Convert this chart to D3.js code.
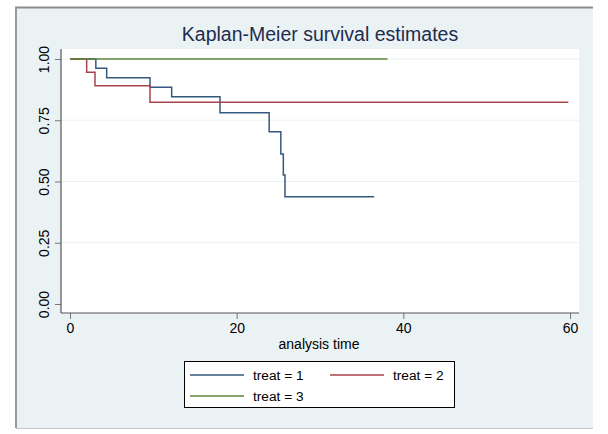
<!DOCTYPE html>
<html>
<head>
<meta charset="utf-8">
<script src="https://cdn.jsdelivr.net/npm/d3@7"></script>
<style>
  body { margin: 0; background: #fff; }
  svg text { font-family: "Liberation Sans", Arial, Helvetica, sans-serif; }
</style>
</head>
<body>
<svg id="km-chart" width="608" height="434"></svg>
<script>
/* survival step data: time, survival estimate */
var treat1_time = [0, 3.1, 4.4, 9.6, 12.2, 18.0, 23.9, 25.3, 25.6, 25.8, 36.5];
var treat1_surv = [1, 0.962, 0.923, 0.885, 0.846, 0.781, 0.703, 0.612, 0.527, 0.438, 0.438];
var treat2_time = [0, 2.0, 3.0, 9.6, 59.8];
var treat2_surv = [1, 0.946, 0.891, 0.823, 0.823];
var treat3_time = [0, 38.1];
var treat3_surv = [1, 1];

var groups = ["treat = 1", "treat = 2", "treat = 3"];
var x_ticks = [0, 20, 40, 60];
var y_ticks = [0, 0.25, 0.5, 0.75, 1];

var colors = ["#34597f", "#a8434c", "#5e8436"];

var svg = d3.select("#km-chart");

/* graph region (Stata style light bluish background with frame) */
svg.append("rect")
    .attr("x", 16).attr("y", 8)
    .attr("width", 577).attr("height", 420)
    .attr("fill", "#eaf2f3");
svg.append("line")
    .attr("x1", 15).attr("x2", 593).attr("y1", 7.5).attr("y2", 7.5)
    .attr("stroke", "#8c8c8c").attr("stroke-width", 2);
svg.append("line")
    .attr("x1", 16).attr("x2", 16).attr("y1", 7).attr("y2", 428)
    .attr("stroke", "#9a9a9a").attr("stroke-width", 2);
svg.append("line")
    .attr("x1", 16).attr("x2", 593).attr("y1", 428.5).attr("y2", 428.5)
    .attr("stroke", "#c8c8c8").attr("stroke-width", 1);

/* plot region */
var plot = {left: 61, right: 579, top: 49, bottom: 313};

svg.append("rect")
    .attr("x", plot.left).attr("y", plot.top)
    .attr("width", plot.right - plot.left)
    .attr("height", plot.bottom - plot.top)
    .attr("fill", "#fff");

var x = d3.scaleLinear().domain([0, 60]).range([70, 570]);
var y = d3.scaleLinear().domain([0, 1]).range([304, 59]);

/* gridlines */
svg.append("g")
  .selectAll("line")
  .data(y_ticks.filter(function(d) { return d > 0; }))
  .enter().append("line")
    .attr("x1", plot.left + 1).attr("x2", plot.right)
    .attr("y1", function(d) { return y(d); })
    .attr("y2", function(d) { return y(d); })
    .attr("stroke", "#eaf2f3").attr("stroke-width", 1.2);

/* axes */
var x_axis = svg.append("g")
    .attr("transform", "translate(0," + plot.bottom + ")")
    .call(d3.axisBottom(x).tickValues(x_ticks).tickSize(6).tickSizeOuter(0).tickPadding(4));
x_axis.select(".domain").remove();
x_axis.selectAll(".tick line").attr("stroke", "#777");
x_axis.selectAll(".tick text")
    .attr("fill", "#000")
    .style("font-size", "14px");

var y_axis = svg.append("g")
    .attr("transform", "translate(" + plot.left + ",0)")
    .call(d3.axisLeft(y).tickValues(y_ticks).tickSize(6).tickSizeOuter(0)
      .tickFormat(d3.format(".2f")));
y_axis.select(".domain").remove();
y_axis.selectAll(".tick line").attr("stroke", "#777");
y_axis.selectAll(".tick text")
    .attr("fill", "#000")
    .attr("x", null).attr("dy", null)
    .attr("transform", "translate(-12,0) rotate(-90)")
    .attr("text-anchor", "middle")
    .style("font-size", "14px");

/* axis frame lines */
svg.append("line")
    .attr("x1", plot.left).attr("x2", plot.left)
    .attr("y1", plot.top).attr("y2", plot.bottom)
    .attr("stroke", "#555").attr("stroke-width", 1.2);
svg.append("line")
    .attr("x1", plot.left).attr("x2", plot.right)
    .attr("y1", plot.bottom).attr("y2", plot.bottom)
    .attr("stroke", "#555").attr("stroke-width", 1.2);

/* Kaplan-Meier step lines */
var km_line = d3.line()
    .curve(d3.curveStepAfter)
    .x(function(d) { return x(d[0]); })
    .y(function(d) { return y(d[1]); });

var series = [
  d3.zip(treat1_time, treat1_surv),
  d3.zip(treat2_time, treat2_surv),
  d3.zip(treat3_time, treat3_surv)
];

svg.append("g")
  .selectAll("path")
  .data(series)
  .enter().append("path")
    .attr("d", km_line)
    .attr("fill", "none")
    .attr("stroke", function(d, i) { return colors[i]; })
    .attr("stroke-width", 1.5);

/* title and axis title */
svg.append("text")
    .attr("x", 320).attr("y", 41)
    .attr("text-anchor", "middle")
    .attr("fill", "#1e2c50")
    .style("font-size", "19.5px")
    .text("Kaplan-Meier survival estimates");

svg.append("text")
    .attr("x", 319).attr("y", 349)
    .attr("text-anchor", "middle")
    .attr("fill", "#000")
    .style("font-size", "14px")
    .text("analysis time");

/* legend */
var legend = svg.append("g");
legend.append("rect")
    .attr("x", 184.5).attr("y", 361.5)
    .attr("width", 270).attr("height", 46)
    .attr("fill", "#fff").attr("stroke", "#000").attr("stroke-width", 1);

var legend_pos = [[190, 375], [330, 375], [190, 396]];

var items = legend.selectAll("g.item")
  .data(groups)
  .enter().append("g")
    .attr("class", "item")
    .attr("transform", function(d, i) {
      return "translate(" + legend_pos[i][0] + "," + legend_pos[i][1] + ")";
    });

items.append("line")
    .attr("x1", 0).attr("x2", 54)
    .attr("stroke", function(d, i) { return colors[i]; })
    .attr("stroke-width", 1.5);

items.append("text")
    .attr("x", 63).attr("y", 5)
    .attr("fill", "#000")
    .style("font-size", "13.7px")
    .text(function(d) { return d; });
</script>
</body>
</html>
